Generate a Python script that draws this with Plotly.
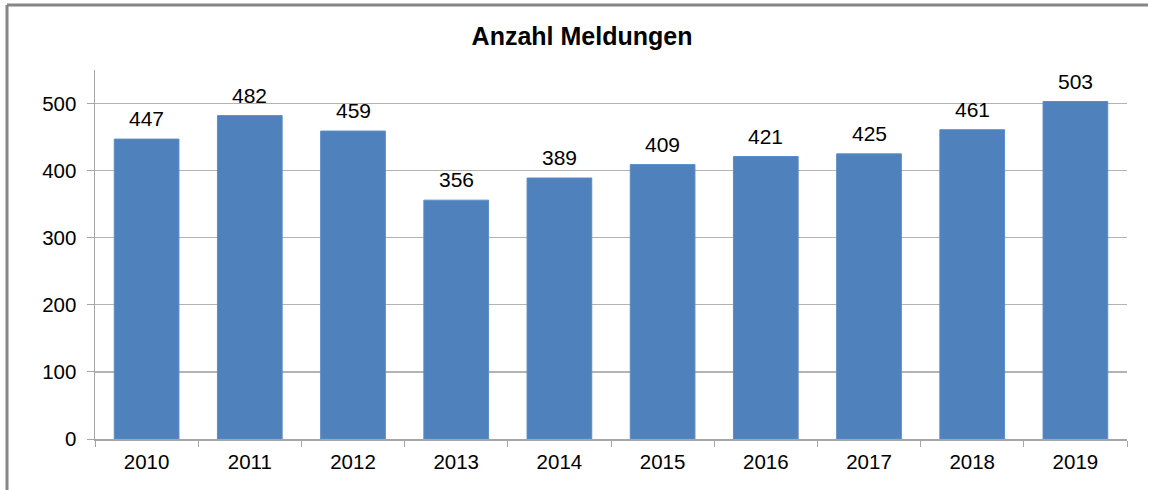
import plotly.graph_objects as go

years = ["2010", "2011", "2012", "2013", "2014", "2015", "2016", "2017", "2018", "2019"]
meldungen = [447, 482, 459, 356, 389, 409, 421, 425, 461, 503]
y_ticks = [0, 100, 200, 300, 400, 500]
title_text = "Anzahl Meldungen"

W, H = 1150, 490
L, R, T, B = 95, 23, 70, 51
pw, ph = W - L - R, H - T - B

font_family = "Liberation Sans, Arial, sans-serif"

fig = go.Figure()
fig.add_trace(go.Bar(
    x=years, y=meldungen,
    marker=dict(color="#4F81BD", line=dict(color="#5B8CC6", width=1)),
    hoverinfo="none",
))

for i, v in enumerate(meldungen):
    fig.add_annotation(x=i, y=v, xref="x", yref="y", text=str(v), showarrow=False,
                       yanchor="bottom", yshift=7,
                       font=dict(family=font_family, size=21, color="#000000"))

# outer chart border (top and left visible)
bx = (7 - L) / pw
by = (H - B - 5) / ph
bx_end = (W - 2 - L) / pw
by_end = -(B + 5) / ph
fig.add_shape(type="line", xref="paper", yref="paper", x0=bx, x1=bx_end, y0=by, y1=by,
              line=dict(color="#868686", width=3))
fig.add_shape(type="line", xref="paper", yref="paper", x0=bx, x1=bx, y0=by, y1=by_end,
              line=dict(color="#868686", width=3))

fig.update_layout(
    width=W, height=H,
    margin=dict(l=L, r=R, t=T, b=B),
    paper_bgcolor="white", plot_bgcolor="white",
    bargap=0.373,
    showlegend=False,
    hovermode=False,
    dragmode=False,
    title=dict(text="<b>" + title_text + "</b>", x=582 / W, xanchor="center",
               y=1 - 36 / H, yanchor="middle",
               font=dict(family=font_family, size=25, color="#000000")),
    font=dict(family=font_family, size=20, color="#000000"),
)
fig.update_xaxes(
    type="category", range=[-0.5, 9.5], showgrid=False, showline=True, linecolor="#A6A6A6", linewidth=1.5,
    ticks="outside", tickson="boundaries", ticklen=6, tickcolor="#A6A6A6",
    tickangle=0, ticklabelstandoff=4, tickfont=dict(size=20.5, color="#000000"),
)
fig.update_yaxes(
    range=[0, 550], tickvals=y_ticks, showgrid=True, gridcolor="#B3B3B3", gridwidth=1.2,
    showline=True, linecolor="#A6A6A6", linewidth=1.5, zeroline=False,
    ticks="outside", ticklen=7, tickcolor="#A6A6A6", ticklabelstandoff=6,
    tickfont=dict(size=20.5, color="#000000"),
)

fig.write_html("out.html", config={"displayModeBar": False, "staticPlot": True},
               post_script="document.body.style.margin='0';document.body.style.overflow='hidden';")
